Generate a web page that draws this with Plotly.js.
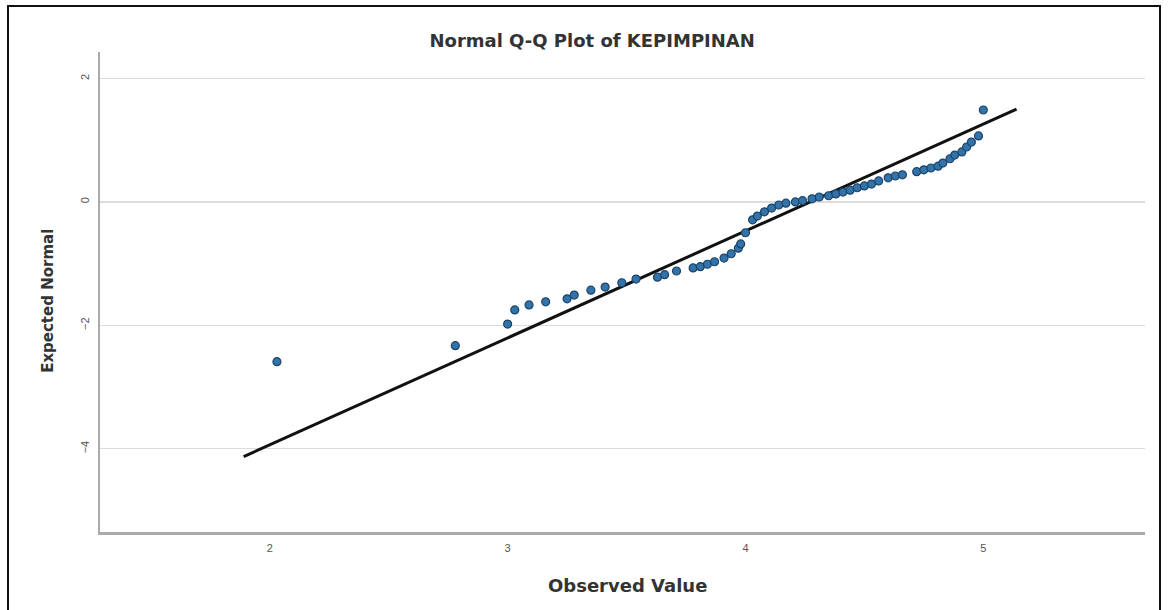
<!DOCTYPE html>
<html>
<head>
<meta charset="utf-8">
<script src="https://cdn.plot.ly/plotly-3.0.1.min.js"></script>
<style>
  html, body { margin: 0; padding: 0; background: #ffffff; }
  #wrap { position: relative; width: 1168px; height: 610px; overflow: hidden; }
  #frame { position: absolute; left: 7px; top: 5px; width: 1154px; height: 640px; border: 2px solid #111; box-sizing: border-box; pointer-events: none; z-index: 2; }
  #chart { position: absolute; left: 0; top: 0; width: 1168px; height: 610px; }
</style>
</head>
<body>
<div id="wrap">
  <div id="chart"></div>
  <div id="frame"></div>
</div>
<script>
const observedValues = [
  2.03, 2.78, 3.00, 3.03, 3.09, 3.16, 3.25, 3.28, 3.35, 3.41,
  3.48, 3.54, 3.63, 3.66, 3.71, 3.78, 3.81, 3.84, 3.87, 3.91,
  3.94, 3.97, 3.98, 4.00, 4.03, 4.05, 4.08, 4.11, 4.14, 4.17,
  4.21, 4.24, 4.28, 4.31, 4.35, 4.38, 4.41, 4.44, 4.47, 4.50,
  4.53, 4.56, 4.60, 4.63, 4.66, 4.72, 4.75, 4.78, 4.81, 4.83,
  4.86, 4.88, 4.91, 4.93, 4.95, 4.98, 5.00
];
const expectedNormal = [
  -2.59, -2.33, -1.98, -1.75, -1.67, -1.62, -1.57, -1.51, -1.43, -1.38,
  -1.31, -1.25, -1.22, -1.18, -1.12, -1.07, -1.05, -1.01, -0.97, -0.91,
  -0.84, -0.75, -0.68, -0.50, -0.29, -0.23, -0.16, -0.10, -0.05, -0.02,
   0.00,  0.02,  0.05,  0.08,  0.10,  0.13,  0.16,  0.19,  0.23,  0.26,
   0.29,  0.34,  0.39,  0.42,  0.44,  0.49,  0.52,  0.55,  0.58,  0.63,
   0.70,  0.76,  0.81,  0.89,  0.97,  1.07,  1.49
];
// Reference line: expected = (observed - mean) / sd, drawn across this span
const refLineSpan = [1.89, 5.14];
const refMean = 4.272;
const refSd = 0.577;
const refLineY = refLineSpan.map(v => (v - refMean) / refSd);

const xTickVals = [2, 3, 4, 5];
const yTickVals = [-4, -2, 0, 2];

const titleFont = 'DejaVu Sans, Liberation Sans, Arial, sans-serif';

const traces = [
  {
    x: refLineSpan, y: refLineY, type: 'scatter', mode: 'lines',
    line: { color: '#111111', width: 3 }, hoverinfo: 'skip', showlegend: false
  },
  {
    x: observedValues, y: expectedNormal, type: 'scatter', mode: 'markers',
    marker: { size: 8, color: '#3273aa', line: { color: '#1e4568', width: 1.2 } },
    showlegend: false
  }
];

const layout = {
  width: 1168, height: 610,
  margin: { l: 100, r: 23, t: 52, b: 78 },
  paper_bgcolor: 'rgba(0,0,0,0)', plot_bgcolor: '#ffffff',
  font: { family: 'Liberation Sans, Arial, sans-serif', color: '#444' },
  title: {
    text: 'Normal Q-Q Plot of KEPIMPINAN',
    font: { family: titleFont, size: 18, color: '#333', weight: 'bold' },
    x: 0.507, xanchor: 'center', y: 0.934, yanchor: 'middle', yref: 'container'
  },
  xaxis: {
    range: [1.286, 5.68],
    tickvals: xTickVals,
    ticks: '', showgrid: false, zeroline: false,
    showline: true, linecolor: '#aaaaaa', linewidth: 2.5,
    ticklabelstandoff: 4,
    tickfont: { size: 11, color: '#555' }
  },
  yaxis: {
    range: [-5.35, 2.43],
    tickvals: yTickVals,
    tickangle: -90,
    ticks: '', showgrid: true, gridcolor: '#dcdcdc', gridwidth: 1.5, zeroline: false,
    showline: true, linecolor: '#aaaaaa', linewidth: 2,
    ticklabelstandoff: 5,
    tickfont: { size: 11, color: '#555' }
  },
  annotations: [
    {
      text: 'Observed Value', xref: 'paper', yref: 'paper',
      x: 0.5045, y: -0.112, xanchor: 'center', yanchor: 'middle', showarrow: false,
      font: { family: titleFont, size: 18, color: '#333', weight: 'bold' }
    },
    {
      text: 'Expected Normal', xref: 'paper', yref: 'paper',
      x: -0.05, y: 0.481, xanchor: 'center', yanchor: 'middle', textangle: -90, showarrow: false,
      font: { family: titleFont, size: 15, color: '#333', weight: 'bold' }
    }
  ]
};

Plotly.newPlot('chart', traces, layout, { displayModeBar: false, staticPlot: true });
</script>
</body>
</html>
